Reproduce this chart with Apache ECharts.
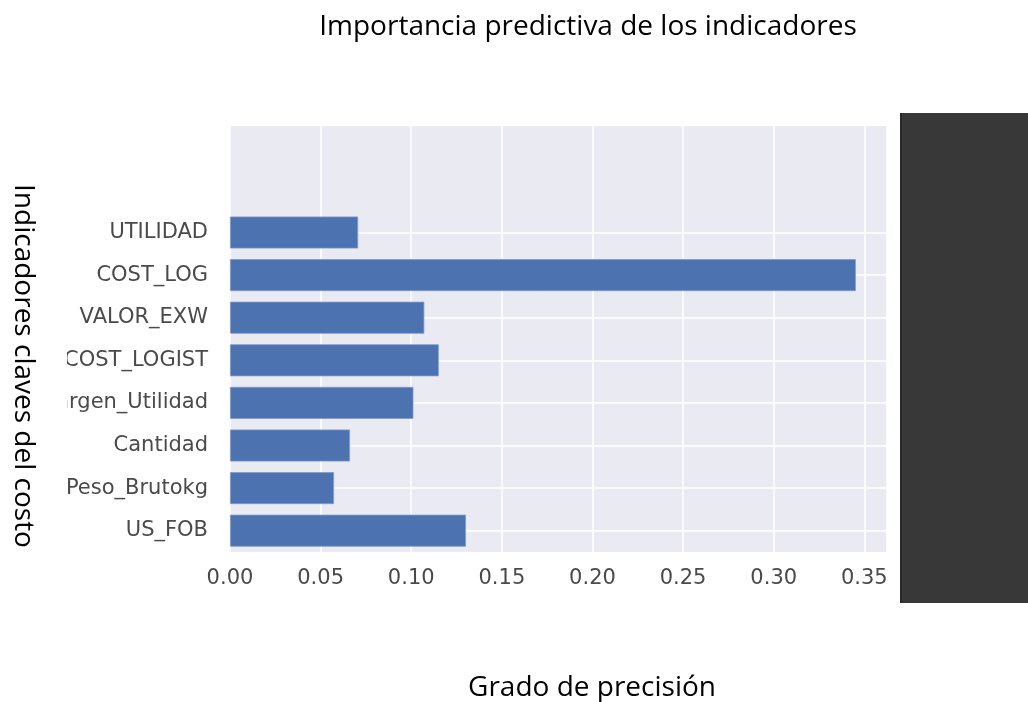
<!DOCTYPE html>
<html>
<head>
<meta charset="utf-8">
<script src="https://cdn.jsdelivr.net/npm/echarts@6/dist/echarts.min.js"></script>
<style>
  html, body { margin: 0; padding: 0; background: #ffffff; }
  #chart { width: 1028px; height: 702px; }
</style>
</head>
<body>
<div id="chart"></div>
<script>
// Data (bottom to top, as drawn by the horizontal bar chart)
const categories = ['US_FOB', 'Peso_Brutokg', 'Cantidad', 'Margen_Utilidad', 'COST_LOGIST', 'VALOR_EXW', 'COST_LOG', 'UTILIDAD', '', ''];
const importance = [0.1302, 0.0574, 0.0662, 0.1012, 0.1152, 0.1072, 0.3453, 0.0707, null, null];
const xTicks = [0, 0.05, 0.10, 0.15, 0.20, 0.25, 0.30, 0.35];

const chartTitle = 'Importancia predictiva de los indicadores';
const xTitle = 'Grado de precisión';
const yTitle = 'Indicadores claves del costo';

const outerFont = '"Open Sans", sans-serif';
const innerFont = '"DejaVu Sans", sans-serif';

const chart = echarts.init(document.getElementById('chart'), null, { renderer: 'canvas' });

chart.setOption({
  backgroundColor: '#ffffff',
  animation: false,
  grid: {
    left: 230, top: 126, right: 141, bottom: 150,
    show: true, backgroundColor: '#EAEAF2', borderWidth: 0
  },
  xAxis: {
    type: 'value',
    min: 0, max: 0.3625, interval: 0.05,
    axisLine: { show: false },
    axisTick: { show: false },
    axisLabel: {
      color: '#4a4a4a', fontSize: 21, fontFamily: innerFont, margin: 16,
      showMaxLabel: false,
      formatter: v => xTicks.some(t => Math.abs(t - v) < 1e-9) ? v.toFixed(2) : ''
    },
    splitLine: { show: true, lineStyle: { color: '#ffffff', width: 1.6 } }
  },
  yAxis: {
    type: 'category',
    data: categories,
    axisLine: { show: false },
    axisTick: { show: false },
    axisLabel: { color: '#4a4a4a', fontSize: 21, fontFamily: innerFont, margin: 22 },
    splitLine: {
      show: true,
      alignWithLabel: true,
      interval: (i, v) => v !== '',
      lineStyle: { color: '#ffffff', width: 1.6 }
    }
  },
  series: [{
    type: 'bar',
    data: importance,
    barWidth: 32,
    itemStyle: { color: '#4C72B0', borderColor: '#7f9bcb', borderWidth: 0.8 }
  }],
  graphic: {
    elements: [
      { type: 'rect', id: 'labelClip', zlevel: 1, z: 100, left: 38, top: 330, shape: { width: 29, height: 180 }, style: { fill: '#ffffff' } },
      { type: 'rect', z: 100, shape: { x: 900, y: 113, width: 128, height: 490 }, style: { fill: '#383838' } },
      { type: 'rect', z: 101, shape: { x: 900, y: 113, width: 2, height: 490 }, style: { fill: '#2a2a2a' } },
      { type: 'text', z: 100, x: 588, y: 27,
        style: { text: chartTitle, fill: '#000000', fontSize: 28, fontFamily: outerFont, align: 'center', verticalAlign: 'middle' } },
      { type: 'text', z: 100, x: 592, y: 688,
        style: { text: xTitle, fill: '#000000', fontSize: 28, fontFamily: outerFont, align: 'center', verticalAlign: 'middle' } },
      { type: 'text', z: 100, x: 23, y: 366, rotation: -Math.PI / 2,
        style: { text: yTitle, fill: '#000000', fontSize: 28, fontFamily: outerFont, align: 'center', verticalAlign: 'middle' } }
    ]
  }
});
</script>
</body>
</html>
